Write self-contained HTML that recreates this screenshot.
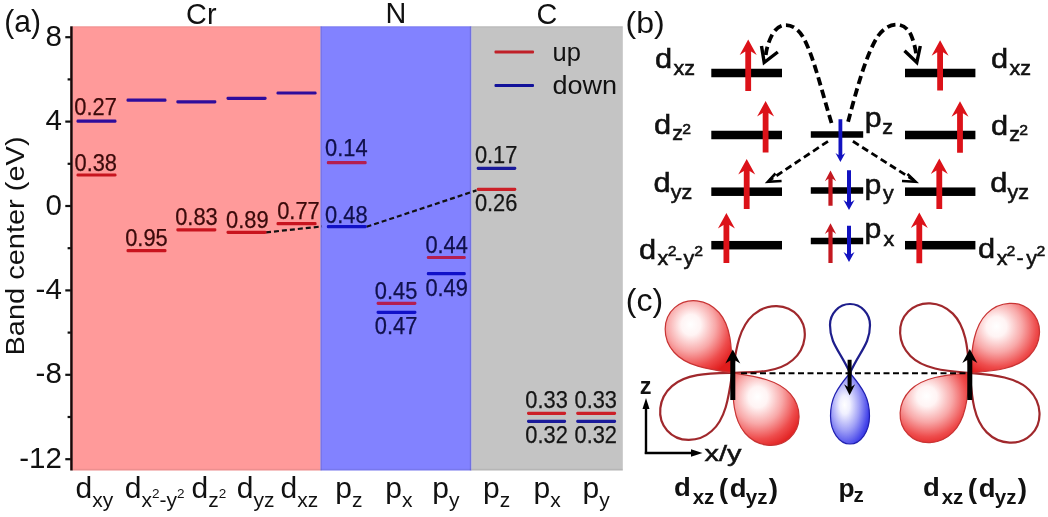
<!DOCTYPE html>
<html><head><meta charset="utf-8"><style>
html,body{margin:0;padding:0;background:#fff;width:1048px;height:517px;overflow:hidden}
svg{display:block;font-family:"Liberation Sans", sans-serif;filter:blur(0.4px)}
</style></head><body>
<svg width="1048" height="517" viewBox="0 0 1048 517">
<defs><radialGradient id="gr" cx="0.4" cy="0.36" r="0.72" fx="0.38" fy="0.33">
<stop offset="0" stop-color="#fff"/><stop offset="0.2" stop-color="#fff4f4"/><stop offset="0.5" stop-color="#f8a8a8"/><stop offset="0.78" stop-color="#ee4c4c"/><stop offset="1" stop-color="#e01c1c"/></radialGradient>
<radialGradient id="gb" cx="0.4" cy="0.45" r="0.72" fx="0.36" fy="0.45">
<stop offset="0" stop-color="#fff"/><stop offset="0.18" stop-color="#f0f0ff"/><stop offset="0.5" stop-color="#a0a0f6"/><stop offset="0.8" stop-color="#4848ea"/><stop offset="1" stop-color="#2020d8"/></radialGradient></defs>
<rect width="1048" height="517" fill="#fff"/>
<rect x="72.5" y="26.3" width="248" height="444.2" fill="#FF9A9A"/>
<rect x="320.5" y="26.3" width="151" height="444.2" fill="#8282FF"/>
<rect x="471.5" y="26.3" width="151.3" height="444.2" fill="#C4C4C4"/>
<rect x="72.5" y="26.3" width="550.3" height="1.2" fill="#000" opacity="0.06"/>
<rect x="72.5" y="468.8" width="550.3" height="1.7" fill="#000" opacity="0.07"/>
<rect x="320.3" y="26.3" width="1.4" height="444.2" fill="#503c8c" opacity="0.25"/>
<rect x="469.8" y="26.3" width="1.6" height="444.2" fill="#303080" opacity="0.22"/>
<rect x="70.2" y="26.3" width="2.5" height="444.2" fill="#1a0505"/>
<rect x="65.3" y="36.1" width="5.5" height="2.2" fill="#111"/>
<text transform="translate(61.80,45.70) scale(1.0,1)" font-size="29.5" text-anchor="end" fill="#111" font-weight="normal" >8</text>
<rect x="65.3" y="120.5" width="5.5" height="2.2" fill="#111"/>
<text transform="translate(61.80,130.10) scale(1.0,1)" font-size="29.5" text-anchor="end" fill="#111" font-weight="normal" >4</text>
<rect x="65.3" y="204.9" width="5.5" height="2.2" fill="#111"/>
<text transform="translate(61.80,214.50) scale(1.0,1)" font-size="29.5" text-anchor="end" fill="#111" font-weight="normal" >0</text>
<rect x="65.3" y="289.3" width="5.5" height="2.2" fill="#111"/>
<text transform="translate(61.80,298.90) scale(1.0,1)" font-size="29.5" text-anchor="end" fill="#111" font-weight="normal" >-4</text>
<rect x="65.3" y="373.7" width="5.5" height="2.2" fill="#111"/>
<text transform="translate(61.80,383.30) scale(1.0,1)" font-size="29.5" text-anchor="end" fill="#111" font-weight="normal" >-8</text>
<rect x="65.3" y="458.1" width="5.5" height="2.2" fill="#111"/>
<text transform="translate(61.80,467.70) scale(1.0,1)" font-size="29.5" text-anchor="end" fill="#111" font-weight="normal" >-12</text>
<rect x="67.6" y="78.3" width="3.2" height="2.2" fill="#111"/>
<rect x="67.6" y="162.7" width="3.2" height="2.2" fill="#111"/>
<rect x="67.6" y="247.1" width="3.2" height="2.2" fill="#111"/>
<rect x="67.6" y="331.5" width="3.2" height="2.2" fill="#111"/>
<rect x="67.6" y="415.9" width="3.2" height="2.2" fill="#111"/>
<text transform="translate(24,246) scale(0.92,1) rotate(-90)" font-size="29" text-anchor="middle" fill="#111">Band center (eV)</text>
<text transform="translate(4.30,32.20) scale(0.97,1)" font-size="31" text-anchor="start" fill="#111" font-weight="normal" >(a)</text>
<text transform="translate(201.30,23.80) scale(0.96,1)" font-size="30" text-anchor="middle" fill="#111" font-weight="normal" >Cr</text>
<text transform="translate(396.00,23.40) scale(0.96,1)" font-size="30" text-anchor="middle" fill="#111" font-weight="normal" >N</text>
<text transform="translate(546.80,23.60) scale(0.96,1)" font-size="30" text-anchor="middle" fill="#111" font-weight="normal" >C</text>
<rect x="494.5" y="50.5" width="39.5" height="2.9" rx="1" fill="#C02028"/>
<rect x="494.5" y="84" width="39.5" height="2.9" rx="1" fill="#12129A"/>
<text transform="translate(552.50,60.70) scale(0.98,1)" font-size="26" text-anchor="start" fill="#111" font-weight="normal" >up</text>
<text transform="translate(552.50,93.90) scale(1.04,1)" font-size="26" text-anchor="start" fill="#111" font-weight="normal" >down</text>
<path d="M266,232.4 L322,226.4" stroke="#111" stroke-width="2.2" stroke-dasharray="5,3" fill="none"/>
<path d="M366.5,226.8 L476.5,190.4" stroke="#111" stroke-width="2.2" stroke-dasharray="5,3" fill="none"/>
<rect x="76.5" y="119.6" width="40.0" height="3.2" rx="1.4" fill="#2E0C9C"/>
<rect x="76.5" y="173.4" width="40.0" height="3.2" rx="1.4" fill="#C8141E"/>
<rect x="126.5" y="98.6" width="40.0" height="3.2" rx="1.4" fill="#2E0C9C"/>
<rect x="126.5" y="249.1" width="40.0" height="3.2" rx="1.4" fill="#C8141E"/>
<rect x="176.3" y="100.3" width="40.1" height="3.2" rx="1.4" fill="#2E0C9C"/>
<rect x="176.3" y="228.3" width="40.1" height="3.2" rx="1.4" fill="#C8141E"/>
<rect x="226.5" y="96.7" width="40.1" height="3.2" rx="1.4" fill="#2E0C9C"/>
<rect x="226.5" y="230.7" width="40.1" height="3.2" rx="1.4" fill="#C8141E"/>
<rect x="276.5" y="91.4" width="40.1" height="3.2" rx="1.4" fill="#2E0C9C"/>
<rect x="276.5" y="222.1" width="40.1" height="3.2" rx="1.4" fill="#C8141E"/>
<text x="74.3" y="115.2" font-size="23" fill="#3A0A0A" stroke="#3A0A0A" stroke-width="0.25" textLength="42.5" lengthAdjust="spacingAndGlyphs">0.27</text>
<text x="74.5" y="171.2" font-size="23" fill="#3A0A0A" stroke="#3A0A0A" stroke-width="0.25" textLength="42.5" lengthAdjust="spacingAndGlyphs">0.38</text>
<text x="125.2" y="246.4" font-size="23" fill="#3A0A0A" stroke="#3A0A0A" stroke-width="0.25" textLength="42.5" lengthAdjust="spacingAndGlyphs">0.95</text>
<text x="175.2" y="225.1" font-size="23" fill="#3A0A0A" stroke="#3A0A0A" stroke-width="0.25" textLength="42.5" lengthAdjust="spacingAndGlyphs">0.83</text>
<text x="226.1" y="227.9" font-size="23" fill="#3A0A0A" stroke="#3A0A0A" stroke-width="0.25" textLength="42.5" lengthAdjust="spacingAndGlyphs">0.89</text>
<text x="277.2" y="219.3" font-size="23" fill="#3A0A0A" stroke="#3A0A0A" stroke-width="0.25" textLength="42.5" lengthAdjust="spacingAndGlyphs">0.77</text>
<rect x="326.8" y="161.1" width="39.9" height="3.2" rx="1.4" fill="#B41E50"/>
<rect x="326.8" y="225.1" width="39.9" height="3.2" rx="1.4" fill="#1010C8"/>
<rect x="376.6" y="301.8" width="39.8" height="3.2" rx="1.4" fill="#B41E50"/>
<rect x="376.6" y="310.7" width="39.8" height="3.2" rx="1.4" fill="#1010C8"/>
<rect x="426.8" y="255.9" width="39.0" height="3.2" rx="1.4" fill="#B41E50"/>
<rect x="426.8" y="272.1" width="39.0" height="3.2" rx="1.4" fill="#1010C8"/>
<text x="325.1" y="155.6" font-size="23" fill="#10104A" stroke="#10104A" stroke-width="0.25" textLength="42.5" lengthAdjust="spacingAndGlyphs">0.14</text>
<text x="325.1" y="222.9" font-size="23" fill="#10104A" stroke="#10104A" stroke-width="0.25" textLength="42.5" lengthAdjust="spacingAndGlyphs">0.48</text>
<text x="374.8" y="299.1" font-size="23" fill="#10104A" stroke="#10104A" stroke-width="0.25" textLength="42.5" lengthAdjust="spacingAndGlyphs">0.45</text>
<text x="374.8" y="334.3" font-size="23" fill="#10104A" stroke="#10104A" stroke-width="0.25" textLength="42.5" lengthAdjust="spacingAndGlyphs">0.47</text>
<text x="425.4" y="253.0" font-size="23" fill="#10104A" stroke="#10104A" stroke-width="0.25" textLength="42.5" lengthAdjust="spacingAndGlyphs">0.44</text>
<text x="425.4" y="295.5" font-size="23" fill="#10104A" stroke="#10104A" stroke-width="0.25" textLength="42.5" lengthAdjust="spacingAndGlyphs">0.49</text>
<rect x="476.7" y="166.7" width="39.6" height="3.2" rx="1.4" fill="#1A1A9A"/>
<rect x="476.7" y="187.8" width="39.6" height="3.2" rx="1.4" fill="#CC2028"/>
<rect x="527.0" y="411.8" width="39.1" height="3.2" rx="1.4" fill="#CC2028"/>
<rect x="527.0" y="419.8" width="39.1" height="3.2" rx="1.4" fill="#1A1A9A"/>
<rect x="576.2" y="411.8" width="39.9" height="3.2" rx="1.4" fill="#CC2028"/>
<rect x="576.2" y="419.8" width="39.9" height="3.2" rx="1.4" fill="#1A1A9A"/>
<text x="474.9" y="163.3" font-size="23" fill="#151515" stroke="#151515" stroke-width="0.25" textLength="42.5" lengthAdjust="spacingAndGlyphs">0.17</text>
<text x="474.9" y="211.4" font-size="23" fill="#151515" stroke="#151515" stroke-width="0.25" textLength="42.5" lengthAdjust="spacingAndGlyphs">0.26</text>
<text x="525.3" y="408.4" font-size="23" fill="#151515" stroke="#151515" stroke-width="0.25" textLength="42.5" lengthAdjust="spacingAndGlyphs">0.33</text>
<text x="525.3" y="443.0" font-size="23" fill="#151515" stroke="#151515" stroke-width="0.25" textLength="42.5" lengthAdjust="spacingAndGlyphs">0.32</text>
<text x="574.5" y="408.4" font-size="23" fill="#151515" stroke="#151515" stroke-width="0.25" textLength="42.5" lengthAdjust="spacingAndGlyphs">0.33</text>
<text x="574.5" y="443.0" font-size="23" fill="#151515" stroke="#151515" stroke-width="0.25" textLength="42.5" lengthAdjust="spacingAndGlyphs">0.32</text>
<text transform="translate(75.6,498.3) scale(1.0,1)" fill="#111"><tspan font-size="30.0" dy="0">d</tspan><tspan font-size="21.0" dy="8.5">xy</tspan></text>
<text transform="translate(124.7,498.3) scale(1.0,1)" fill="#111"><tspan font-size="30.0" dy="0">d</tspan><tspan font-size="21.0" dy="8.5">x</tspan><tspan font-size="13.5" dy="-8.8">2</tspan><tspan font-size="21.0" dy="8.8">-y</tspan><tspan font-size="13.5" dy="-8.8">2</tspan></text>
<text transform="translate(191.6,498.3) scale(1.0,1)" fill="#111"><tspan font-size="30.0" dy="0">d</tspan><tspan font-size="21.0" dy="8.5">z</tspan><tspan font-size="13.5" dy="-8.8">2</tspan></text>
<text transform="translate(236.7,498.3) scale(1.0,1)" fill="#111"><tspan font-size="30.0" dy="0">d</tspan><tspan font-size="21.0" dy="8.5">yz</tspan></text>
<text transform="translate(280.5,498.3) scale(1.0,1)" fill="#111"><tspan font-size="30.0" dy="0">d</tspan><tspan font-size="21.0" dy="8.5">xz</tspan></text>
<text transform="translate(335.2,498.3) scale(1.0,1)" fill="#111"><tspan font-size="30.0" dy="0">p</tspan><tspan font-size="21.0" dy="8.5">z</tspan></text>
<text transform="translate(385.3,498.3) scale(1.0,1)" fill="#111"><tspan font-size="30.0" dy="0">p</tspan><tspan font-size="21.0" dy="8.5">x</tspan></text>
<text transform="translate(432.2,498.3) scale(1.0,1)" fill="#111"><tspan font-size="30.0" dy="0">p</tspan><tspan font-size="21.0" dy="8.5">y</tspan></text>
<text transform="translate(483,498.3) scale(1.0,1)" fill="#111"><tspan font-size="30.0" dy="0">p</tspan><tspan font-size="21.0" dy="8.5">z</tspan></text>
<text transform="translate(533.6,498.3) scale(1.0,1)" fill="#111"><tspan font-size="30.0" dy="0">p</tspan><tspan font-size="21.0" dy="8.5">x</tspan></text>
<text transform="translate(582.5,498.3) scale(1.0,1)" fill="#111"><tspan font-size="30.0" dy="0">p</tspan><tspan font-size="21.0" dy="8.5">y</tspan></text>
<text transform="translate(625.50,32.80) scale(1.07,1)" font-size="30" text-anchor="start" fill="#111" font-weight="normal" >(b)</text>
<rect x="711.3" y="68.75" width="70.7" height="8.5" fill="#000"/>
<rect x="905" y="68.75" width="70.4" height="8.5" fill="#000"/>
<rect x="711.3" y="130.75" width="70.7" height="8.5" fill="#000"/>
<rect x="905" y="130.75" width="70.4" height="8.5" fill="#000"/>
<rect x="711.3" y="187.45" width="70.7" height="8.5" fill="#000"/>
<rect x="905" y="187.45" width="70.4" height="8.5" fill="#000"/>
<rect x="711.3" y="240.95" width="70.7" height="8.5" fill="#000"/>
<rect x="905" y="240.95" width="70.4" height="8.5" fill="#000"/>
<rect x="810.8" y="131.25" width="52.4" height="6.5" fill="#000"/>
<rect x="810.8" y="187.25" width="52.4" height="6.5" fill="#000"/>
<rect x="810.8" y="237.75" width="52.4" height="6.5" fill="#000"/>
<polygon points="748.20,39.50 756.70,55.00 751.10,51.50 751.10,91.00 745.30,91.00 745.30,51.50 739.70,55.00" fill="#DC1219"/>
<polygon points="765.60,101.10 774.10,116.60 768.50,113.10 768.50,152.50 762.70,152.50 762.70,113.10 757.10,116.60" fill="#DC1219"/>
<polygon points="746.70,159.00 755.20,174.50 749.60,171.00 749.60,209.00 743.80,209.00 743.80,171.00 738.20,174.50" fill="#DC1219"/>
<polygon points="726.40,213.00 734.90,228.50 729.30,225.00 729.30,263.10 723.50,263.10 723.50,225.00 717.90,228.50" fill="#DC1219"/>
<polygon points="940.10,40.30 948.60,55.80 943.00,52.30 943.00,90.50 937.20,90.50 937.20,52.30 931.60,55.80" fill="#DC1219"/>
<polygon points="960.00,101.30 968.50,116.80 962.90,113.30 962.90,152.80 957.10,152.80 957.10,113.30 951.50,116.80" fill="#DC1219"/>
<polygon points="939.30,158.40 947.80,173.90 942.20,170.40 942.20,209.10 936.40,209.10 936.40,170.40 930.80,173.90" fill="#DC1219"/>
<polygon points="919.30,212.60 927.80,228.10 922.20,224.60 922.20,263.30 916.40,263.30 916.40,224.60 910.80,228.10" fill="#DC1219"/>
<polygon points="830.50,170.60 836.15,181.20 832.60,178.70 832.60,205.70 828.40,205.70 828.40,178.70 824.85,181.20" fill="#C41820"/>
<polygon points="830.50,223.30 836.15,233.90 832.60,231.40 832.60,263.00 828.40,263.00 828.40,231.40 824.85,233.90" fill="#C41820"/>
<polygon points="849.00,209.90 854.50,199.90 851.00,202.20 851.00,170.20 847.00,170.20 847.00,202.20 843.50,199.90" fill="#1212C0"/>
<polygon points="849.00,262.00 854.50,252.00 851.00,254.30 851.00,225.80 847.00,225.80 847.00,254.30 843.50,252.00" fill="#1212C0"/>
<polygon points="840.40,162.00 845.30,153.00 842.30,155.00 842.30,119.30 838.50,119.30 838.50,155.00 835.50,153.00" fill="#1212C0"/>
<path d="M831.5,123 C822,92 813,54 803,37 C795,23 780,20 772,35 C768,43 766,50 765.5,58" stroke="#000" stroke-width="3.8" fill="none" stroke-dasharray="8.5,4.5"/>
<path d="M761.5,46 L764.2,62.5 L777.8,52" stroke="#000" stroke-width="3.4" fill="none" stroke-linejoin="miter"/>
<path d="M848.1,121.7 C856,92 866,54 878,36 C888,22 904,20 911,35 C914,42 916,50 916.4,58" stroke="#000" stroke-width="3.8" fill="none" stroke-dasharray="8.5,4.5"/>
<path d="M904.5,50.8 L916.8,62.5 L920.3,46" stroke="#000" stroke-width="3.4" fill="none" stroke-linejoin="miter"/>
<path d="M828,141.3 L770,180" stroke="#000" stroke-width="2.8" fill="none" stroke-dasharray="7,4"/>
<path d="M775.5,173.5 L767.9,181.7 L781.6,181" stroke="#000" stroke-width="2.6" fill="none"/>
<path d="M852.9,141.3 L913.5,180" stroke="#000" stroke-width="2.8" fill="none" stroke-dasharray="7,4"/>
<path d="M902,181 L915.6,181.7 L907.5,174" stroke="#000" stroke-width="2.6" fill="none"/>
<text transform="translate(655.01,67.80) scale(1.12,1)" font-size="27.5" font-weight="normal" fill="#111" stroke="#111" stroke-width="0.55">d</text>
<text transform="translate(673.46,74.70) scale(1.05,1)" font-size="20.5" font-weight="normal" fill="#111" stroke="#111" stroke-width="0.55">xz</text>
<text transform="translate(654.01,133.60) scale(1.12,1)" font-size="27.5" font-weight="normal" fill="#111" stroke="#111" stroke-width="0.55">d</text>
<text transform="translate(672.23,140.40) scale(1.05,1)" font-size="20.5" font-weight="normal" fill="#111" stroke="#111" stroke-width="0.55">z</text>
<text transform="translate(682.21,133.60) scale(1.05,1)" font-size="15" font-weight="normal" fill="#111" stroke="#111" stroke-width="0.55">2</text>
<text transform="translate(653.61,192.30) scale(1.12,1)" font-size="27.5" font-weight="normal" fill="#111" stroke="#111" stroke-width="0.55">d</text>
<text transform="translate(670.75,198.60) scale(1.05,1)" font-size="20.5" font-weight="normal" fill="#111" stroke="#111" stroke-width="0.55">yz</text>
<text transform="translate(639.11,258.60) scale(1.12,1)" font-size="27.5" font-weight="normal" fill="#111" stroke="#111" stroke-width="0.55">d</text>
<text transform="translate(657.56,264.90) scale(1.05,1)" font-size="20.5" font-weight="normal" fill="#111" stroke="#111" stroke-width="0.55">x</text>
<text transform="translate(667.81,255.80) scale(1.05,1)" font-size="15" font-weight="normal" fill="#111" stroke="#111" stroke-width="0.55">2</text>
<text transform="translate(674.94,264.60) scale(1.05,1)" font-size="20.5" font-weight="normal" fill="#111" stroke="#111" stroke-width="0.55">-</text>
<text transform="translate(683.55,264.90) scale(1.05,1)" font-size="20.5" font-weight="normal" fill="#111" stroke="#111" stroke-width="0.55">y</text>
<text transform="translate(694.31,255.80) scale(1.05,1)" font-size="15" font-weight="normal" fill="#111" stroke="#111" stroke-width="0.55">2</text>
<text transform="translate(991.01,67.50) scale(1.12,1)" font-size="27.5" font-weight="normal" fill="#111" stroke="#111" stroke-width="0.55">d</text>
<text transform="translate(1009.46,74.60) scale(1.05,1)" font-size="20.5" font-weight="normal" fill="#111" stroke="#111" stroke-width="0.55">xz</text>
<text transform="translate(991.01,134.60) scale(1.12,1)" font-size="27.5" font-weight="normal" fill="#111" stroke="#111" stroke-width="0.55">d</text>
<text transform="translate(1009.23,140.60) scale(1.05,1)" font-size="20.5" font-weight="normal" fill="#111" stroke="#111" stroke-width="0.55">z</text>
<text transform="translate(1019.21,134.60) scale(1.05,1)" font-size="15" font-weight="normal" fill="#111" stroke="#111" stroke-width="0.55">2</text>
<text transform="translate(990.31,192.30) scale(1.12,1)" font-size="27.5" font-weight="normal" fill="#111" stroke="#111" stroke-width="0.55">d</text>
<text transform="translate(1007.45,198.60) scale(1.05,1)" font-size="20.5" font-weight="normal" fill="#111" stroke="#111" stroke-width="0.55">yz</text>
<text transform="translate(977.91,258.30) scale(1.12,1)" font-size="27.5" font-weight="normal" fill="#111" stroke="#111" stroke-width="0.55">d</text>
<text transform="translate(996.66,264.90) scale(1.05,1)" font-size="20.5" font-weight="normal" fill="#111" stroke="#111" stroke-width="0.55">x</text>
<text transform="translate(1006.61,255.80) scale(1.05,1)" font-size="15" font-weight="normal" fill="#111" stroke="#111" stroke-width="0.55">2</text>
<text transform="translate(1016.54,264.60) scale(1.05,1)" font-size="20.5" font-weight="normal" fill="#111" stroke="#111" stroke-width="0.55">-</text>
<text transform="translate(1026.15,264.90) scale(1.05,1)" font-size="20.5" font-weight="normal" fill="#111" stroke="#111" stroke-width="0.55">y</text>
<text transform="translate(1036.51,255.80) scale(1.05,1)" font-size="15" font-weight="normal" fill="#111" stroke="#111" stroke-width="0.55">2</text>
<text transform="translate(864.65,127.00) scale(1.08,1)" font-size="28" font-weight="normal" fill="#111" stroke="#111" stroke-width="0.55">p</text>
<text transform="translate(882.13,134.00) scale(1.05,1)" font-size="20.5" font-weight="normal" fill="#111" stroke="#111" stroke-width="0.55">z</text>
<text transform="translate(864.55,193.80) scale(1.08,1)" font-size="28" font-weight="normal" fill="#111" stroke="#111" stroke-width="0.55">p</text>
<text transform="translate(882.95,200.20) scale(1.05,1)" font-size="20.5" font-weight="normal" fill="#111" stroke="#111" stroke-width="0.55">y</text>
<text transform="translate(864.55,238.40) scale(1.08,1)" font-size="28" font-weight="normal" fill="#111" stroke="#111" stroke-width="0.55">p</text>
<text transform="translate(883.56,245.70) scale(1.05,1)" font-size="20.5" font-weight="normal" fill="#111" stroke="#111" stroke-width="0.55">x</text>
<text transform="translate(625.80,311.30) scale(1.05,1)" font-size="30.5" text-anchor="start" fill="#111" font-weight="normal" >(c)</text>
<path d="M732.30,372.80 C736.10,348.80 739.11,327.13 753.37,314.73 C767.12,302.78 787.10,303.22 797.96,315.72 C808.82,328.22 806.48,348.06 792.74,360.01 C778.47,372.41 756.60,372.38 732.30,372.80 Z" fill="#fff" stroke="#A0282C" stroke-width="2.2" stroke-linejoin="round"/>
<path d="M732.30,372.80 C728.71,396.83 725.89,418.53 711.73,431.05 C698.09,443.12 678.11,442.85 667.14,430.45 C656.17,418.05 658.33,398.18 671.98,386.11 C686.13,373.59 708.01,373.44 732.30,372.80 Z" fill="#fff" stroke="#A0282C" stroke-width="2.2" stroke-linejoin="round"/>
<path d="M732.30,372.80 C708.27,369.21 686.57,366.39 674.05,352.23 C661.98,338.59 662.25,318.61 674.65,307.64 C687.05,296.67 706.92,298.83 718.99,312.48 C731.51,326.63 731.66,348.51 732.30,372.80 Z" fill="url(#gr)" stroke="#C83434" stroke-width="1.2" stroke-linejoin="round"/>
<path d="M732.30,372.80 C756.30,376.60 777.97,379.61 790.37,393.87 C802.32,407.62 801.88,427.60 789.38,438.46 C776.88,449.32 757.04,446.98 745.09,433.24 C732.69,418.97 732.72,397.10 732.30,372.80 Z" fill="url(#gr)" stroke="#C83434" stroke-width="1.2" stroke-linejoin="round"/>
<path d="M969.80,373.00 C945.59,370.88 923.77,369.39 910.40,356.03 C897.52,343.15 896.57,323.19 908.28,311.48 C919.99,299.77 939.95,300.72 952.83,313.60 C966.19,326.97 967.68,348.79 969.80,373.00 Z" fill="#fff" stroke="#A0282C" stroke-width="2.2" stroke-linejoin="round"/>
<path d="M969.80,373.00 C994.01,375.12 1015.83,376.61 1029.20,389.97 C1042.08,402.85 1043.03,422.81 1031.32,434.52 C1019.61,446.23 999.65,445.28 986.77,432.40 C973.41,419.03 971.92,397.21 969.80,373.00 Z" fill="#fff" stroke="#A0282C" stroke-width="2.2" stroke-linejoin="round"/>
<path d="M969.80,373.00 C971.92,348.79 973.41,326.97 986.77,313.60 C999.65,300.72 1019.61,299.77 1031.32,311.48 C1043.03,323.19 1042.08,343.15 1029.20,356.03 C1015.83,369.39 994.01,370.88 969.80,373.00 Z" fill="url(#gr)" stroke="#C83434" stroke-width="1.2" stroke-linejoin="round"/>
<path d="M969.80,373.00 C967.68,397.21 966.19,419.03 952.83,432.40 C939.95,445.28 919.99,446.23 908.28,434.52 C896.57,422.81 897.52,402.85 910.40,389.97 C923.77,376.61 945.59,375.12 969.80,373.00 Z" fill="url(#gr)" stroke="#C83434" stroke-width="1.2" stroke-linejoin="round"/>
<path d="M850.00,373.00 C840.24,351.07 830.00,344.20 830.00,325.00 C830.00,313.41 838.96,304.00 850.00,304.00 C861.04,304.00 870.00,313.41 870.00,325.00 C870.00,344.20 859.76,351.07 850.00,373.00 Z" fill="#fff" stroke="#1E1E8C" stroke-width="2.2" stroke-linejoin="round"/>
<path d="M850.00,373.00 C863.82,389.47 869.50,398.80 869.50,416.00 C869.50,431.46 860.76,444.00 850.00,444.00 C839.24,444.00 830.50,431.46 830.50,416.00 C830.50,398.80 836.18,389.47 850.00,373.00 Z" fill="url(#gb)" stroke="#2020B0" stroke-width="1.2" stroke-linejoin="round"/>
<path d="M741,373.3 L966,373.3" stroke="#000" stroke-width="2" fill="none" stroke-dasharray="6,3.5"/>
<polygon points="732.80,349.60 740.30,363.60 735.30,360.60 735.30,400.00 730.30,400.00 730.30,360.60 725.30,363.60" fill="#000"/>
<polygon points="969.80,348.90 977.30,362.90 972.30,359.90 972.30,400.00 967.30,400.00 967.30,359.90 962.30,362.90" fill="#000"/>
<polygon points="849.60,395.30 855.10,384.30 851.60,386.80 851.60,359.70 847.60,359.70 847.60,386.80 844.10,384.30" fill="#000"/>
<path d="M646,454 L646,406" stroke="#000" stroke-width="2.4"/>
<polygon points="646,398 649.5,409 642.5,409" fill="#000"/>
<path d="M644.8,453 L692,453" stroke="#000" stroke-width="2.4"/>
<polygon points="702.5,453 691,449.3 691,456.7" fill="#000"/>
<text transform="translate(639.86,393.60) scale(1.0,1)" font-size="23.5" font-weight="bold" fill="#111" >z</text>
<text x="704.5" y="461.4" font-size="22" fill="#111" stroke="#111" stroke-width="0.5" textLength="37" lengthAdjust="spacingAndGlyphs">x/y</text>
<text transform="translate(674.07,496.30) scale(1.1,1)" font-size="25" font-weight="bold" fill="#111" >d</text>
<text transform="translate(692.66,503.50) scale(1.0,1)" font-size="20.5" font-weight="bold" fill="#111" >xz</text>
<text transform="translate(718.81,497.80) scale(1.0,1)" font-size="28" font-weight="bold" fill="#111" >(</text>
<text transform="translate(729.77,496.50) scale(1.1,1)" font-size="25" font-weight="bold" fill="#111" >d</text>
<text transform="translate(745.84,503.50) scale(1.0,1)" font-size="20.5" font-weight="bold" fill="#111" >yz</text>
<text transform="translate(768.77,497.80) scale(1.0,1)" font-size="28" font-weight="bold" fill="#111" >)</text>
<text transform="translate(923.07,496.30) scale(1.1,1)" font-size="25" font-weight="bold" fill="#111" >d</text>
<text transform="translate(941.66,503.50) scale(1.0,1)" font-size="20.5" font-weight="bold" fill="#111" >xz</text>
<text transform="translate(967.81,497.80) scale(1.0,1)" font-size="28" font-weight="bold" fill="#111" >(</text>
<text transform="translate(978.77,496.50) scale(1.1,1)" font-size="25" font-weight="bold" fill="#111" >d</text>
<text transform="translate(994.84,503.50) scale(1.0,1)" font-size="20.5" font-weight="bold" fill="#111" >yz</text>
<text transform="translate(1017.77,497.80) scale(1.0,1)" font-size="28" font-weight="bold" fill="#111" >)</text>
<text transform="translate(838.57,497.00) scale(1.05,1)" font-size="25" font-weight="bold" fill="#111" >p</text>
<text transform="translate(853.38,502.20) scale(1.0,1)" font-size="20.5" font-weight="bold" fill="#111" >z</text>
</svg>
</body></html>
